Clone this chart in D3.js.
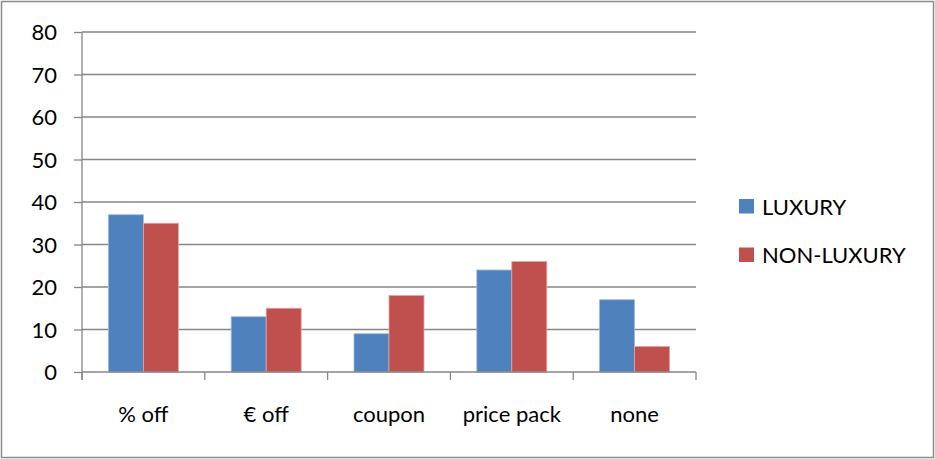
<!DOCTYPE html>
<html>
<head>
<meta charset="utf-8">
<script src="https://cdn.jsdelivr.net/npm/d3@7"></script>
<style>
  body { margin: 0; background: #fff; }
  svg { display: block; }
  text { font-family: "Lato", "Open Sans", sans-serif; fill: #000; }
</style>
</head>
<body>
<div id="chart"></div>
<script>
var categories = ["% off", "€ off", "coupon", "price pack", "none"];
var seriesNames = ["LUXURY", "NON-LUXURY"];
var luxury = [37, 13, 9, 24, 17];
var nonLuxury = [35, 15, 18, 26, 6];
var yTicks = [0, 10, 20, 30, 40, 50, 60, 70, 80];
var colors = ["#4F81BD", "#C0504D"];

var W = 935, H = 459;
var margin = {top: 32, left: 82, right: 239, bottom: 87};
var width = W - margin.left - margin.right,
    height = H - margin.top - margin.bottom;
var fontSize = "22px";

var svg = d3.select("#chart").append("svg")
    .attr("width", W)
    .attr("height", H);

// outer frame
svg.append("rect")
    .attr("x", 1.5).attr("y", 1.5)
    .attr("width", W - 3).attr("height", H - 3)
    .attr("fill", "#fff")
    .attr("stroke", "#8c8c8c")
    .attr("stroke-width", 1.5);

var g = svg.append("g")
    .attr("transform", "translate(" + margin.left + "," + margin.top + ")");

var x = d3.scaleBand().domain(categories).range([0, width]).paddingInner(0).paddingOuter(0);
var y = d3.scaleLinear().domain([0, 80]).range([height, 0]);

var data = categories.map(function(c, i) {
    return {cat: c, vals: [luxury[i], nonLuxury[i]]};
});

// gridlines
g.selectAll(".grid").data(yTicks.filter(function(d) { return d > 0; })).enter()
    .append("line")
    .attr("x1", 0).attr("x2", width)
    .attr("y1", function(d) { return y(d); })
    .attr("y2", function(d) { return y(d); })
    .attr("stroke", "#868686")
    .attr("stroke-width", 1.3);

// bars
var groupW = x.bandwidth() * 0.57;
var barW = groupW / 2;
var grp = g.selectAll(".grp").data(data).enter().append("g")
    .attr("transform", function(d) { return "translate(" + (x(d.cat) + (x.bandwidth() - groupW) / 2) + ",0)"; });

grp.selectAll("rect").data(function(d) { return d.vals; }).enter()
    .append("rect")
    .attr("x", function(d, i) { return i * barW; })
    .attr("y", function(d) { return y(d); })
    .attr("width", barW)
    .attr("height", function(d) { return height - y(d); })
    .attr("fill", function(d, i) { return colors[i]; })
    .attr("stroke", function(d, i) { return i === 0 ? "#9db9e0" : "#e6a5a3"; })
    .attr("stroke-width", 0.8);

// y axis
var yAxis = d3.axisLeft(y).tickValues(yTicks).tickSize(8).tickPadding(17);
var ya = g.append("g").call(yAxis);
ya.select(".domain").attr("stroke", "#868686").attr("stroke-width", 1.3).attr("d", "M0," + (height + 8) + "V0");
ya.selectAll(".tick line").attr("stroke", "#868686").attr("stroke-width", 1.3);
ya.selectAll(".tick text").style("font-size", fontSize).attr("dy", "0.36em");

// x axis
var xa = g.append("g").attr("transform", "translate(0," + height + ")");
xa.append("line").attr("x1", 0).attr("x2", width)
    .attr("stroke", "#868686").attr("stroke-width", 1.3);
xa.selectAll(".xt").data(d3.range(categories.length + 1)).enter()
    .append("line")
    .attr("x1", function(i) { return i * x.step(); })
    .attr("x2", function(i) { return i * x.step(); })
    .attr("y1", 0).attr("y2", 8)
    .attr("stroke", "#868686").attr("stroke-width", 1.3);
xa.selectAll(".xl").data(categories).enter()
    .append("text")
    .attr("x", function(d) { return x(d) + x.bandwidth() / 2; })
    .attr("y", 50)
    .attr("text-anchor", "middle")
    .style("font-size", fontSize)
    .text(function(d) { return d; });

// legend
var leg = svg.append("g").attr("transform", "translate(739,199)");
var li = leg.selectAll("g").data(seriesNames).enter().append("g")
    .attr("transform", function(d, i) { return "translate(0," + (i * 48.5) + ")"; });
li.append("rect").attr("width", 15).attr("height", 14.5)
    .attr("fill", function(d, i) { return colors[i]; });
li.append("text").attr("x", 23).attr("y", 15.5)
    .style("font-size", fontSize)
    .text(function(d) { return d; });
</script>
</body>
</html>
